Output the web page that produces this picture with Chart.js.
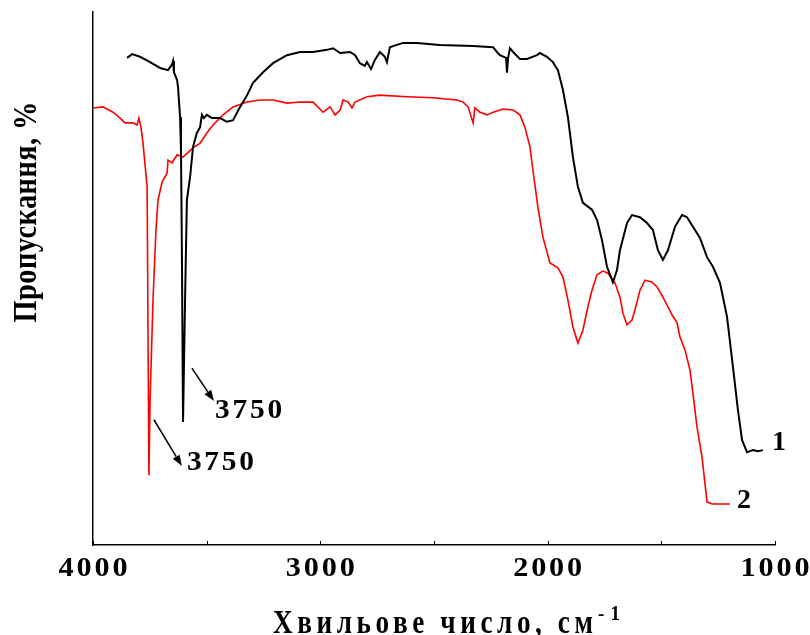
<!DOCTYPE html>
<html>
<head>
<meta charset="utf-8">
<script src="https://cdn.jsdelivr.net/npm/chart.js@4/dist/chart.umd.min.js"></script>
<style>
  html, body { margin: 0; padding: 0; background: #fff; }
  #wrap { width: 810px; height: 635px; }
</style>
</head>
<body>
<div id="wrap"><canvas id="irChart" width="810" height="635"></canvas></div>
<script>
// спектр 1 (чорний)
const wn1 = [3850, 3828, 3793, 3749, 3705, 3670, 3652, 3648, 3644, 3630, 3626, 3617, 3613, 3609, 3604,
  3595, 3587, 3573, 3560, 3543, 3529, 3521, 3512, 3499, 3477, 3441, 3411, 3384, 3353, 3322, 3296,
  3252, 3208, 3147, 3089, 3032, 2971, 2944, 2913, 2869, 2847, 2826, 2804, 2795, 2777, 2760, 2738,
  2716, 2707, 2694, 2680, 2636, 2575, 2474, 2328, 2240, 2223, 2210, 2183, 2179, 2174, 2166, 2152,
  2122, 2091, 2047, 2034, 2003, 1977, 1955, 1933, 1911, 1889, 1867, 1845, 1805, 1783, 1761, 1739,
  1713, 1695, 1682, 1651, 1629, 1594, 1563, 1537, 1515, 1493, 1471, 1440, 1409, 1387, 1361, 1330,
  1299, 1273, 1242, 1211, 1185, 1163, 1145, 1123, 1097, 1075, 1053];
const tr1 = [91.4, 92.1, 91.6, 90.6, 89.5, 89.1, 90.2, 90.8, 88.7, 87.2, 85.9, 80.3, 74.1, 55.3, 23.1,
  46.0, 64.7, 69.0, 74.7, 77.3, 78.4, 80.7, 80.1, 80.7, 80.1, 80.1, 79.4, 79.7, 82.2, 84.4, 86.7,
  88.7, 90.4, 91.9, 92.5, 92.5, 92.9, 93.2, 92.3, 92.5, 91.9, 90.4, 89.9, 90.6, 89.3, 91.0, 92.5,
  91.6, 90.6, 93.4, 93.6, 94.2, 94.2, 93.8, 93.6, 93.4, 92.5, 91.9, 91.4, 88.6, 91.4, 93.2, 92.5,
  91.2, 91.2, 91.9, 92.3, 91.6, 90.6, 89.1, 85.4, 80.3, 72.8, 67.2, 64.2, 62.9, 61.0, 57.2, 52.2,
  49.3, 51.6, 55.3, 60.4, 61.9, 61.5, 60.4, 59.1, 55.3, 53.5, 55.3, 59.7, 61.9, 61.5, 59.7, 57.6,
  54.0, 52.2, 49.2, 42.8, 33.4, 25.3, 19.7, 17.4, 17.8, 17.6, 17.8];

// спектр 2 (червоний)
const wn2 = [4000, 3956, 3912, 3881, 3859, 3824, 3806, 3798, 3789, 3780, 3762, 3754, 3749, 3736, 3723,
  3714, 3696, 3674, 3670, 3652, 3630, 3604, 3560, 3529, 3499, 3472, 3428, 3384, 3323, 3265, 3208,
  3147, 3089, 3032, 2988, 2957, 2935, 2913, 2900, 2878, 2861, 2847, 2795, 2738, 2619, 2504, 2399,
  2372, 2350, 2328, 2320, 2298, 2267, 2240, 2196, 2152, 2122, 2100, 2078, 2065, 2043, 2021, 1990,
  1955, 1933, 1911, 1889, 1867, 1845, 1823, 1805, 1783, 1757, 1735, 1704, 1682, 1669, 1651, 1629,
  1616, 1594, 1572, 1541, 1519, 1493, 1453, 1431, 1418, 1396, 1374, 1361, 1343, 1321, 1299, 1277,
  1198];
const tr2 = [82.0, 82.2, 81.2, 80.1, 79.2, 79.2, 78.8, 80.1, 78.4, 75.4, 67.2, 13.1, 27.2, 46.0, 59.1,
  64.7, 68.1, 69.8, 72.2, 71.7, 73.2, 72.8, 74.5, 75.4, 77.3, 78.8, 80.7, 82.2, 83.1, 83.5, 83.5,
  82.9, 83.1, 83.1, 81.2, 82.2, 80.7, 81.6, 83.5, 83.1, 82.0, 83.1, 84.1, 84.4, 84.1, 83.9, 83.5,
  83.1, 82.2, 79.2, 82.0, 81.2, 80.7, 81.2, 81.8, 81.6, 80.7, 78.4, 74.7, 70.4, 63.4, 57.8, 52.9,
  52.0, 50.3, 46.0, 40.9, 37.9, 40.3, 44.7, 47.8, 50.7, 51.4, 51.0, 49.2, 46.5, 43.5, 41.3, 42.2,
  44.1, 47.8, 49.7, 49.3, 48.4, 46.5, 43.2, 41.7, 39.0, 36.6, 32.8, 28.5, 22.1, 16.5, 8.1, 7.7,
  7.7];

const xTickLabels = [4000, 3000, 2000, 1000];
const xMinorTicks = [4000, 3500, 3000, 2500, 2000, 1500, 1000];
const seriesNames = ["1", "2"];
const peakText = "3750";
const xTitle = "Хвильове число, см";
const xTitleSup = "-1";
const yTitle = "Пропускання, %";

const serif = "'Liberation Serif', 'Times New Roman', serif";

// текст з розрядкою, підігнаний під задану ширину
function drawSpaced(ctx, text, x, y, size, hScale, width, align) {
  ctx.save();
  ctx.font = "bold " + size + "px " + serif;
  ctx.letterSpacing = "0px";
  const w0 = ctx.measureText(text).width;
  const n = [...text].length;
  const ls = n > 1 ? (width / hScale - w0) / (n - 1) : 0;
  ctx.letterSpacing = ls + "px";
  ctx.translate(x, y);
  ctx.scale(hScale, 1);
  ctx.textAlign = "left";
  ctx.textBaseline = "alphabetic";
  ctx.fillStyle = "#000";
  const start = align === "center" ? -width / hScale / 2 : 0;
  ctx.fillText(text, start, 0);
  ctx.restore();
}

function drawArrow(ctx, x1, y1, x2, y2) {
  const ang = Math.atan2(y2 - y1, x2 - x1);
  const hl = 11, hw = 4;
  ctx.save();
  ctx.strokeStyle = "#000";
  ctx.fillStyle = "#000";
  ctx.lineWidth = 1.5;
  ctx.beginPath();
  ctx.moveTo(x1, y1);
  ctx.lineTo(x2 - hl * Math.cos(ang), y2 - hl * Math.sin(ang));
  ctx.stroke();
  ctx.beginPath();
  ctx.moveTo(x2, y2);
  ctx.lineTo(x2 - hl * Math.cos(ang) + hw * Math.sin(ang), y2 - hl * Math.sin(ang) - hw * Math.cos(ang));
  ctx.lineTo(x2 - hl * Math.cos(ang) - hw * Math.sin(ang), y2 - hl * Math.sin(ang) + hw * Math.cos(ang));
  ctx.closePath();
  ctx.fill();
  ctx.restore();
}

const decorPlugin = {
  id: "decor",
  afterDraw(chart) {
    const ctx = chart.ctx;
    const xs = chart.scales.x, ys = chart.scales.y;
    const px = v => xs.getPixelForValue(v);
    const py = v => ys.getPixelForValue(v);
    const bottom = chart.chartArea.bottom;

    // внутрішні поділки
    ctx.save();
    ctx.strokeStyle = "#000";
    ctx.lineWidth = 1;
    xMinorTicks.forEach(v => {
      ctx.beginPath();
      ctx.moveTo(Math.round(px(v)) + 0.5, bottom);
      ctx.lineTo(Math.round(px(v)) + 0.5, bottom - 4);
      ctx.stroke();
    });
    ctx.restore();

    // підписи осі X
    xTickLabels.forEach(v => {
      drawSpaced(ctx, String(v), px(v), bottom + 31, 28, 1.08, 69, "center");
    });

    // назви осей
    drawSpaced(ctx, xTitle, 273, 633, 34, 0.8, 320, "left");
    drawSpaced(ctx, xTitleSup, 598, 620, 21, 0.9, 22, "left");

    ctx.save();
    ctx.translate(36, 212);
    ctx.rotate(-Math.PI / 2);
    drawSpaced(ctx, yTitle, 0, 0, 33, 0.86, 221, "center");
    ctx.restore();

    // піки 3750
    drawArrow(ctx, px(3565), py(33.2), px(3468), py(27.0));
    drawSpaced(ctx, peakText, px(3463), py(23.8), 28, 1.05, 67, "left");
    drawArrow(ctx, px(3732), py(23.5), px(3609), py(14.8));
    drawSpaced(ctx, peakText, px(3587), py(14.1), 28, 1.05, 67, "left");

    // номери кривих
    drawSpaced(ctx, seriesNames[0], px(1013), py(17.8), 28, 1, 12, "left");
    drawSpaced(ctx, seriesNames[1], px(1167), py(6.9), 28, 1, 13, "left");
  }
};

window.onload = function () {
  const ctx = document.getElementById("irChart").getContext("2d");
  new Chart(ctx, {
    type: "line",
    data: {
      datasets: [
        {
          label: seriesNames[0],
          data: wn1.map((w, i) => ({ x: w, y: tr1[i] })),
          borderColor: "#000000",
          borderWidth: 2,
          pointRadius: 0,
          tension: 0
        },
        {
          label: seriesNames[1],
          data: wn2.map((w, i) => ({ x: w, y: tr2[i] })),
          borderColor: "#ff0000",
          borderWidth: 1.6,
          pointRadius: 0,
          tension: 0
        }
      ]
    },
    options: {
      responsive: false,
      animation: false,
      devicePixelRatio: 1,
      layout: { padding: { top: 12, right: 35, left: 0, bottom: 0 } },
      plugins: { legend: { display: false }, tooltip: { enabled: false } },
      scales: {
        x: {
          type: "linear",
          reverse: true,
          min: 1000,
          max: 4000,
          ticks: { display: false },
          grid: { display: false },
          border: { display: true, color: "#000", width: 1.5 },
          afterFit: s => { s.height = 90; }
        },
        y: {
          min: 0,
          max: 100,
          ticks: { display: false },
          grid: { display: false },
          border: { display: true, color: "#000", width: 1.5 },
          afterFit: s => { s.width = 93; }
        }
      }
    },
    plugins: [decorPlugin]
  });
};
</script>
</body>
</html>
